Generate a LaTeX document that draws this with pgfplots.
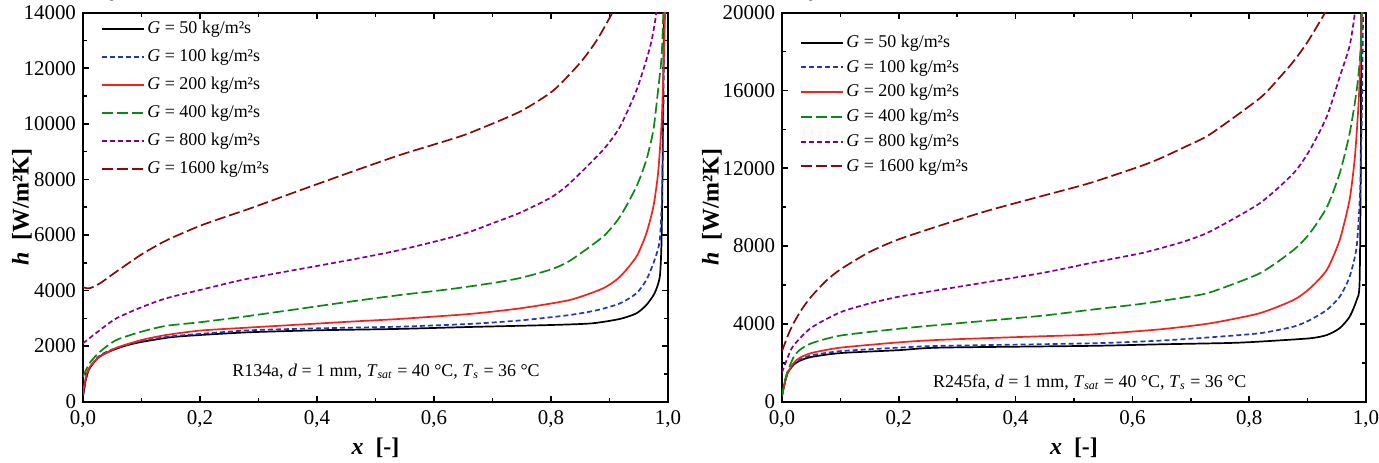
\documentclass[border=0pt]{standalone}
\usepackage{pgfplots}
\pgfplotsset{compat=1.18}
\usepackage{fontspec}
\setmainfont{Liberation Serif}
\definecolor{cBlue}{RGB}{35,55,185}
\definecolor{cRed}{RGB}{240,35,30}
\definecolor{cGreen}{RGB}{10,135,20}
\definecolor{cPurple}{RGB}{130,0,140}
\definecolor{cDark}{RGB}{135,10,10}
\pgfplotsset{
  myaxis/.style={
    scale only axis, width=292.5bp, height=194.5bp,
    xmin=0, xmax=1,
    xtick={0,0.2,0.4,0.6,0.8,1},
    xticklabels={{0,0},{0,2},{0,4},{0,6},{0,8},{1,0}},
    minor x tick num=1, minor y tick num=1,
    tick align=inside, xtick pos=both, ytick pos=both,
    xticklabel pos=lower, yticklabel pos=left,
    major tick length=3bp, minor tick length=2bp,
    every tick/.style={line width=0.8bp, black},
    axis line style={line width=1.1bp},
    tick label style={font=\fontsize{10.5}{12}\selectfont},
    xticklabel style={yshift=-1bp},
    label style={font=\fontsize{12}{14}\selectfont\bfseries},
    xlabel={\textit{x}\ \ [-]},
    xlabel style={at={(axis description cs:0.5,-0.1175)}, anchor=center},
    legend cell align=left,
    legend image code/.code={\draw[##1, line width=1.05bp] (0bp,0bp) -- (21bp,0bp);},
    every axis plot/.append style={line width=0.85bp, smooth, tension=0.4},
    clip=true,
  },
  s50/.style={black, solid},
  s100/.style={cBlue, dash pattern=on 2.5bp off 1.5bp},
  s200/.style={cRed, solid},
  s400/.style={cGreen, dash pattern=on 5.5bp off 2bp},
  s800/.style={cPurple, dash pattern=on 2.5bp off 1.5bp},
  s1600/.style={cDark, dash pattern=on 5.5bp off 2bp},
}
\begin{document}
\begin{tikzpicture}
\useasboundingbox (-41.5bp,-30.65bp) rectangle (648bp,200.85bp);
% ---------------- left: R134a ----------------
\begin{axis}[myaxis, at={(0,0)}, anchor=south west,
  ymin=0, ymax=14000,
  ytick={0,2000,4000,6000,8000,10000,12000,14000},
  yticklabels={0,2000,4000,6000,8000,10000,12000,14000},
  ylabel={\textit{h}\ \ [W/m²K]},
  ylabel style={at={(axis description cs:-0.1043,0.5)}, anchor=center},
  legend style={at={(axis description cs:0.03,0.985)}, anchor=north west,
    draw=none, fill=none, font=\fontsize{9}{10}\selectfont, row sep=3.9bp,
    inner sep=0pt, nodes={inner sep=1.2bp}},
]
\addplot[s50] coordinates {(0,200)(0.005,800)(0.01,1150)(0.02,1450)(0.03,1650)(0.05,1850)(0.075,2030)(0.1,2150)(0.15,2320)(0.2,2400)(0.285,2500)(0.4,2570)(0.54,2620)(0.662,2690)(0.8,2760)(0.87,2820)(0.918,2980)(0.946,3180)(0.963,3480)(0.977,3900)(0.986,4500)(0.989,5820)(0.991,9000)(0.993,14000)(0.994,15000)};
\addlegendentry{\textit{G} = 50 kg/m²s}
\addplot[s100] coordinates {(0,220)(0.005,820)(0.01,1170)(0.02,1480)(0.03,1680)(0.05,1880)(0.1,2180)(0.15,2350)(0.2,2440)(0.285,2570)(0.4,2640)(0.54,2700)(0.662,2800)(0.75,2930)(0.832,3120)(0.88,3300)(0.918,3540)(0.946,3900)(0.963,4380)(0.977,5100)(0.986,5820)(0.99,7620)(0.992,10500)(0.994,14000)(0.995,15000)};
\addlegendentry{\textit{G} = 100 kg/m²s}
\addplot[s200] coordinates {(0,300)(0.006,1000)(0.014,1320)(0.029,1620)(0.057,1940)(0.1,2220)(0.142,2400)(0.2,2560)(0.285,2670)(0.456,2880)(0.542,2980)(0.662,3160)(0.747,3360)(0.832,3660)(0.889,4080)(0.918,4500)(0.946,5220)(0.963,6060)(0.975,7020)(0.983,8220)(0.989,10000)(0.992,11800)(0.995,14000)(0.996,15000)};
\addlegendentry{\textit{G} = 200 kg/m²s}
\addplot[s400] coordinates {(0,900)(0.011,1380)(0.029,1800)(0.057,2220)(0.1,2520)(0.142,2730)(0.2,2860)(0.285,3090)(0.456,3600)(0.542,3840)(0.627,4050)(0.7,4270)(0.747,4450)(0.8,4760)(0.832,5070)(0.889,5940)(0.918,6660)(0.946,7740)(0.963,8700)(0.975,9780)(0.983,11200)(0.989,12400)(0.992,14000)(0.993,15000)};
\addlegendentry{\textit{G} = 400 kg/m²s}
\addplot[s800] coordinates {(0,2100)(0.029,2580)(0.057,3000)(0.1,3400)(0.142,3720)(0.2,4020)(0.285,4440)(0.456,5100)(0.542,5460)(0.627,5900)(0.662,6120)(0.7,6420)(0.747,6800)(0.8,7350)(0.832,7860)(0.889,9060)(0.918,9900)(0.946,11200)(0.963,12300)(0.972,13000)(0.98,14000)(0.982,15000)};
\addlegendentry{\textit{G} = 800 kg/m²s}
\addplot[s1600] coordinates {(0,4120)(0.011,4080)(0.029,4260)(0.057,4680)(0.1,5300)(0.142,5800)(0.2,6330)(0.257,6750)(0.285,6950)(0.37,7600)(0.456,8250)(0.542,8880)(0.627,9430)(0.662,9680)(0.747,10440)(0.804,11200)(0.85,12200)(0.878,13000)(0.905,14000)(0.915,14500)};
\addlegendentry{\textit{G} = 1600 kg/m²s}
\node[font=\fontsize{9}{10}\selectfont] at (axis cs:0.518,1070)
  {R134a, \textit{d} = 1 mm, \textit{T}\textsubscript{\textit{sat}} = 40 °C, \textit{T}\textsubscript{\textit{s}} = 36 °C};
\end{axis}
% ---------------- right: R245fa ----------------
\begin{axis}[myaxis, at={(349.5bp,0)}, anchor=south west,
  width=292bp,
  ymin=0, ymax=20000,
  ytick={0,4000,8000,12000,16000,20000},
  yticklabels={0,4000,8000,12000,16000,20000},
  ylabel={\textit{h}\ \ [W/m²K]},
  ylabel style={at={(axis description cs:-0.1199,0.5)}, anchor=center},
  legend style={at={(axis description cs:0.03,0.95)}, anchor=north west,
    draw=none, fill=none, font=\fontsize{9}{10}\selectfont, row sep=2.25bp,
    inner sep=0pt, nodes={inner sep=1.2bp}},
]
\addplot[s50] coordinates {(0,300)(0.005,1000)(0.01,1500)(0.02,1900)(0.03,2100)(0.05,2300)(0.1,2500)(0.2,2650)(0.27,2780)(0.527,2870)(0.647,2950)(0.767,3020)(0.818,3090)(0.904,3260)(0.933,3430)(0.955,3780)(0.972,4370)(0.984,5230)(0.989,6100)(0.991,12000)(0.992,20000)(0.993,21000)};
\addlegendentry{\textit{G} = 50 kg/m²s}
\addplot[s100] coordinates {(0,300)(0.005,1000)(0.01,1500)(0.02,1950)(0.03,2150)(0.05,2380)(0.1,2600)(0.2,2780)(0.27,2870)(0.527,3000)(0.647,3140)(0.733,3310)(0.818,3520)(0.876,3860)(0.904,4200)(0.933,4720)(0.955,5400)(0.972,6430)(0.984,7980)(0.99,10900)(0.993,15000)(0.995,20000)(0.996,21000)};
\addlegendentry{\textit{G} = 100 kg/m²s}
\addplot[s200] coordinates {(0,300)(0.005,1000)(0.01,1500)(0.02,2000)(0.03,2250)(0.05,2500)(0.1,2780)(0.2,3050)(0.27,3180)(0.43,3350)(0.527,3450)(0.647,3720)(0.733,4030)(0.818,4550)(0.876,5230)(0.904,5830)(0.933,6780)(0.955,8320)(0.972,10400)(0.981,12600)(0.987,15200)(0.99,17200)(0.993,20000)(0.994,21000)};
\addlegendentry{\textit{G} = 200 kg/m²s}
\addplot[s400] coordinates {(0,300)(0.005,1100)(0.01,1600)(0.02,2300)(0.03,2650)(0.05,3000)(0.1,3400)(0.2,3750)(0.27,3950)(0.442,4410)(0.527,4720)(0.613,5020)(0.647,5170)(0.69,5370)(0.733,5620)(0.818,6600)(0.876,7800)(0.904,8670)(0.933,10000)(0.955,11750)(0.972,13800)(0.984,16000)(0.99,17800)(0.993,20000)(0.994,21000)};
\addlegendentry{\textit{G} = 400 kg/m²s}
\addplot[s800] coordinates {(0,1500)(0.01,2300)(0.02,2900)(0.05,3800)(0.1,4600)(0.15,5050)(0.2,5400)(0.27,5750)(0.442,6600)(0.527,7120)(0.613,7620)(0.647,7880)(0.69,8250)(0.733,8750)(0.818,10200)(0.876,11750)(0.904,12950)(0.933,14670)(0.955,16700)(0.972,18300)(0.981,20000)(0.983,21000)};
\addlegendentry{\textit{G} = 800 kg/m²s}
\addplot[s1600] coordinates {(0,2600)(0.01,3400)(0.02,4050)(0.035,4800)(0.05,5400)(0.075,6200)(0.1,6800)(0.15,7700)(0.2,8350)(0.27,9050)(0.35,9800)(0.442,10550)(0.527,11240)(0.613,12100)(0.647,12500)(0.69,13100)(0.733,13750)(0.818,15600)(0.85,16600)(0.876,17500)(0.9,18500)(0.93,20000)(0.94,20500)};
\addlegendentry{\textit{G} = 1600 kg/m²s}
\node[font=\fontsize{9}{10}\selectfont] at (axis cs:0.527,960)
  {R245fa, \textit{d} = 1 mm, \textit{T}\textsubscript{\textit{sat}} = 40 °C, \textit{T}\textsubscript{\textit{s}} = 36 °C};
\end{axis}
\end{tikzpicture}
\end{document}
